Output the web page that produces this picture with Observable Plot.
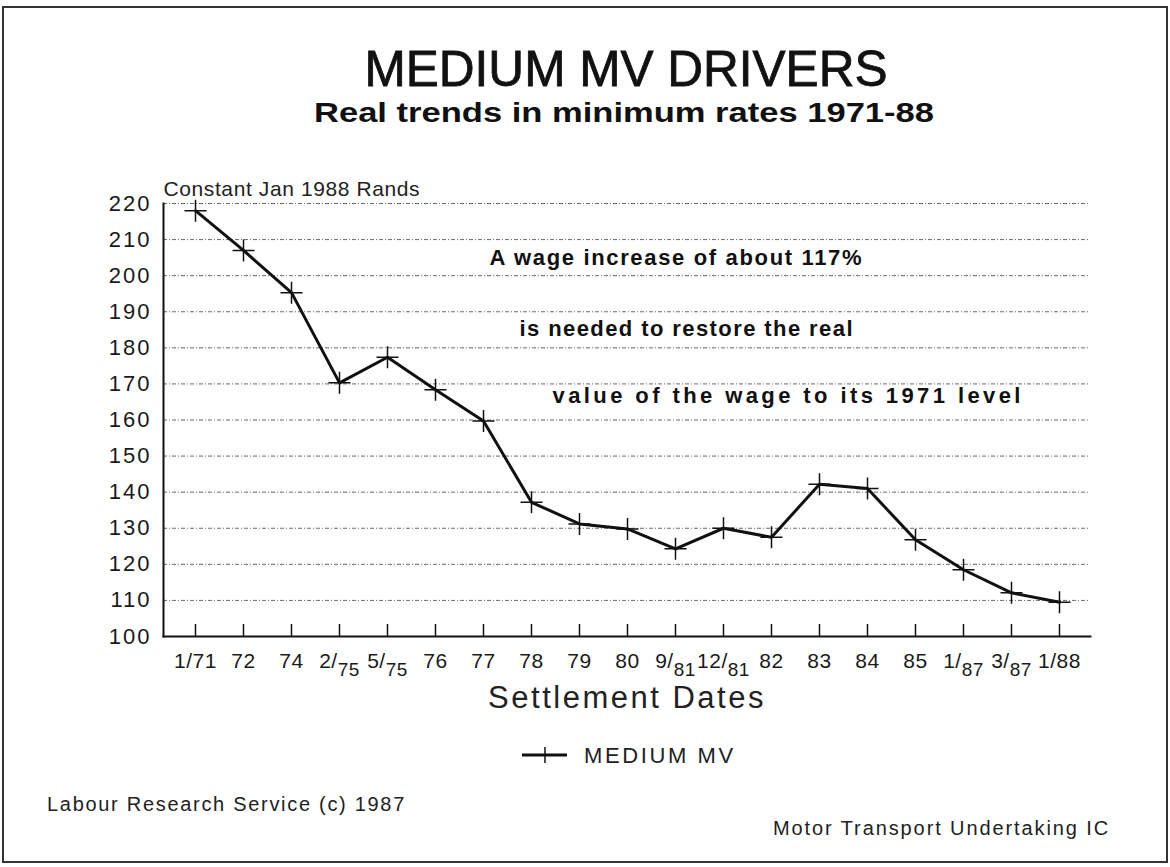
<!DOCTYPE html>
<html>
<head>
<meta charset="utf-8">
<script src="https://cdn.jsdelivr.net/npm/d3@7"></script>
<script src="https://cdn.jsdelivr.net/npm/@observablehq/plot@0.6"></script>
<style>
  body { margin: 0; background: #fff; }
  #page { position: relative; width: 1170px; height: 867px; overflow: hidden; background: #fff; }
  #page > svg { position: absolute; left: 0; top: 0; }
  #border { position: absolute; left: 2px; top: 6px; width: 1162px; height: 853px; border: 2px solid #333; box-sizing: content-box; }
  g[aria-label="y-axis tick label"] text { letter-spacing: 2px; }
  g[aria-label="x-axis tick label"] text { letter-spacing: 0.5px; }
</style>
</head>
<body>
<div id="page"><div id="border"></div></div>
<script>
// ---- data ----
const categories = ["1/71","72","74","2/75","5/75","76","77","78","79","80","9/81","12/81","82","83","84","85","1/87","3/87","1/88"];
const wages = [218, 207, 195.3, 170.3, 177.4, 168.4, 159.7, 137.2, 131.2, 129.8, 124.3, 130, 127.5, 142.2, 141, 126.8, 118.5, 112.1, 109.5];
const yTicks = [100,110,120,130,140,150,160,170,180,190,200,210,220];
const subscriptTicks = ["2/75","5/75","9/81","12/81","1/87","3/87"];
const noteLines = ["A wage increase of about 117%", "is needed to restore the real", "value of the wage to its 1971 level"];
const noteAt = ["77","78","79"];
const noteValue = [204.8, 185.2, 166.8];
const seriesName = "MEDIUM MV";
const titleText = "MEDIUM MV DRIVERS";
const subtitleText = "Real trends in minimum rates 1971-88";
const yLabel = "Constant Jan 1988 Rands";
const xLabel = "Settlement Dates";
const sourceText = "Labour Research Service (c) 1987";
const noteText = "Motor Transport Undertaking IC";

const rows = categories.map((c, i) => ({date: c, value: wages[i]}));
const notes = noteLines.map((t, i) => ({text: t, date: noteAt[i], value: noteValue[i]}));

// plus-shaped marker (thin cross)
const cross = {
  draw(ctx, size) {
    const r = Math.sqrt(size / Math.PI);
    ctx.moveTo(-r, 0); ctx.lineTo(r, 0);
    ctx.moveTo(0, -r); ctx.lineTo(0, r);
  }
};

const W = 1170, H = 867;
const mTop = 203, mBottom = 231;
const chart = Plot.plot({
  width: W, height: H,
  marginTop: mTop, marginBottom: mBottom, marginLeft: 163, marginRight: 80,
  style: {fontFamily: "'Liberation Sans', Arial, sans-serif", fontSize: "21px", color: "#1a1a1a", background: "transparent"},
  x: {type: "point", domain: categories, padding: 0.5},
  y: {domain: [100, 220]},
  marks: [
    Plot.gridY(yTicks.filter(v => v > 100), {stroke: "#444", strokeOpacity: 0.8, strokeWidth: 1, strokeDasharray: "4 2 1 2"}),
    Plot.axisY({ticks: yTicks, tickSize: 0, tickPadding: 12, label: null, fontSize: 22}),
    Plot.axisX({tickSize: 0, tickPadding: 17, label: null, fontSize: 21}),
    Plot.tickX(categories, {x: d => d, insetTop: H - mTop - mBottom - 12, stroke: "#111", strokeWidth: 1.5}),
    Plot.frame({anchor: "left", stroke: "#111", strokeWidth: 2}),
    Plot.frame({anchor: "bottom", stroke: "#111", strokeWidth: 2}),
    Plot.line(rows, {x: "date", y: "value", stroke: "#111", strokeWidth: 3, strokeLinejoin: "round"}),
    Plot.dot(rows, {x: "date", y: "value", symbol: cross, r: 11, stroke: "#111", strokeWidth: 1.5, fill: "none"}),
    Plot.text(notes, {x: "date", y: "value", text: "text", textAnchor: "start", fontWeight: "bold", fontSize: 22, fill: "#111"}),
    Plot.text([yLabel], {text: d => d, frameAnchor: "top-left", textAnchor: "start", dy: -22, fontSize: 21, fill: "#222"}),
    Plot.text([xLabel], {text: d => d, frameAnchor: "bottom", dy: 71, fontSize: 31, fill: "#222"})
  ]
});

// per-note offsets and spread (styling only)
const noteDx = [6, -12, -27];
const noteLen = [372, 333, 468];
const textGroups = chart.querySelectorAll('g[aria-label="text"]');
textGroups[0]?.querySelectorAll("text").forEach((t, i) => {
  t.setAttribute("dx", noteDx[i] ?? 0);
  t.setAttribute("textLength", noteLen[i]);
  t.setAttribute("lengthAdjust", "spacing");
});
textGroups[1]?.querySelectorAll("text").forEach(t => t.setAttribute("letter-spacing", "0.6"));
textGroups[2]?.querySelectorAll("text").forEach(t => { t.setAttribute("letter-spacing", "2.5"); t.setAttribute("font-weight", "300"); });

// subscript formatting for fractional tick labels
chart.querySelectorAll('g[aria-label="x-axis tick label"] text').forEach(t => {
  const s = t.textContent;
  if (subscriptTicks.includes(s)) {
    const [a, b] = s.split("/");
    t.textContent = "";
    const t1 = document.createElementNS("http://www.w3.org/2000/svg", "tspan");
    t1.textContent = a + "/";
    const t2 = document.createElementNS("http://www.w3.org/2000/svg", "tspan");
    t2.textContent = b;
    t2.setAttribute("dy", "8");
    t2.setAttribute("font-size", "19");
    t.appendChild(t1); t.appendChild(t2);
  }
});

const page = document.getElementById("page");
page.appendChild(chart);

// overlay texts: title, subtitle, legend, footer
const ov = d3.create("svg").attr("width", W).attr("height", H)
  .style("font-family", "'Liberation Sans', Arial, sans-serif");
ov.append("text").attr("x", 626).attr("y", 86).attr("text-anchor", "middle")
  .attr("font-size", 50).attr("fill", "#111").attr("stroke", "#111").attr("stroke-width", 0.8)
  .attr("textLength", 523).attr("lengthAdjust", "spacingAndGlyphs").text(titleText);
ov.append("text").attr("x", 624).attr("y", 122).attr("text-anchor", "middle")
  .attr("font-size", 28).attr("font-weight", "bold").attr("fill", "#111")
  .attr("textLength", 620).attr("lengthAdjust", "spacingAndGlyphs").text(subtitleText);
// legend
const lg = ov.append("g");
lg.append("line").attr("x1", 522).attr("x2", 567).attr("y1", 755).attr("y2", 755).attr("stroke", "#111").attr("stroke-width", 3);
lg.append("line").attr("x1", 545).attr("x2", 545).attr("y1", 747).attr("y2", 763).attr("stroke", "#111").attr("stroke-width", 1.5);
lg.append("text").attr("x", 584).attr("y", 763).attr("font-size", 22).attr("letter-spacing", 2.6).attr("fill", "#222").text(seriesName);
// footer
ov.append("text").attr("x", 47).attr("y", 811).attr("font-size", 20).attr("letter-spacing", 1.7).attr("fill", "#222").text(sourceText);
ov.append("text").attr("x", 773).attr("y", 835).attr("font-size", 20).attr("letter-spacing", 1.9).attr("fill", "#222").text(noteText);
page.appendChild(ov.node());
</script>
</body>
</html>
